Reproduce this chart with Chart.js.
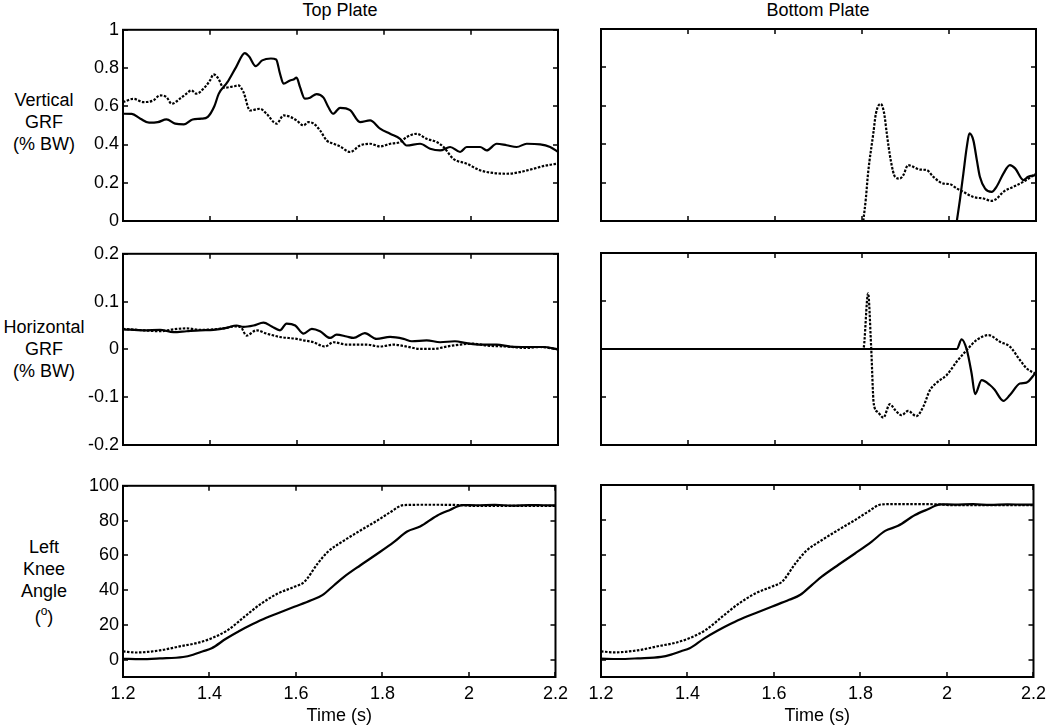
<!DOCTYPE html>
<html>
<head>
<meta charset="utf-8">
<script src="https://cdn.jsdelivr.net/npm/chart.js@4.4.0/dist/chart.umd.min.js"></script>
<style>
  body { margin: 0; background: #fff; width: 1050px; height: 725px; position: relative; overflow: hidden;
         font-family: "Liberation Sans", Arial, sans-serif; color: #000; }
  canvas { position: absolute; }
  .lbl { position: absolute; text-align: center; font-size: 18px; line-height: 22px; white-space: nowrap; }
  .lbl sup { font-size: 12px; line-height: 0; vertical-align: 8px; }
  .deg { display: block; margin-top: 4px; }
</style>
</head>
<body>
<div class="lbl" style="left:240px;width:200px;top:-1px">Top Plate</div>
<div class="lbl" style="left:718px;width:200px;top:-1px">Bottom Plate</div>
<div class="lbl" style="left:0;width:88px;top:89px">Vertical<br>GRF<br>(% BW)</div>
<div class="lbl" style="left:0;width:88px;top:316px">Horizontal<br>GRF<br>(% BW)</div>
<div class="lbl" style="left:0;width:88px;top:536px">Left<br>Knee<br>Angle<span class="deg">(<sup>o</sup>)</span></div>

<script>
// tick labels
const timeTicks = [1.2, 1.4, 1.6, 1.8, 2, 2.2];
const vertTicks = [0, 0.2, 0.4, 0.6, 0.8, 1];
const horizTicks = [-0.2, -0.1, 0, 0.1, 0.2];
const kneeTicks = [0, 20, 40, 60, 80, 100];

// Vertical GRF, top plate
const vertTopSolidT = [1.2, 1.22, 1.24, 1.26, 1.28, 1.3, 1.32, 1.34, 1.36, 1.38, 1.395, 1.41, 1.42, 1.44, 1.46, 1.48, 1.49, 1.505, 1.52, 1.54, 1.552, 1.561, 1.569, 1.584, 1.592, 1.599, 1.607, 1.618, 1.63, 1.645, 1.661, 1.672, 1.683, 1.699, 1.722, 1.745, 1.768, 1.791, 1.814, 1.837, 1.852, 1.883, 1.906, 1.929, 1.952, 1.975, 1.99, 2.021, 2.036, 2.059, 2.082, 2.105, 2.128, 2.159, 2.182, 2.2];
const vertTopSolid = [0.561, 0.56, 0.535, 0.514, 0.517, 0.531, 0.509, 0.505, 0.531, 0.535, 0.545, 0.6, 0.665, 0.726, 0.805, 0.878, 0.86, 0.81, 0.84, 0.85, 0.845, 0.77, 0.718, 0.735, 0.74, 0.75, 0.7, 0.64, 0.645, 0.664, 0.645, 0.596, 0.561, 0.592, 0.58, 0.517, 0.526, 0.483, 0.456, 0.43, 0.395, 0.404, 0.378, 0.369, 0.387, 0.361, 0.387, 0.387, 0.369, 0.404, 0.396, 0.387, 0.404, 0.401, 0.387, 0.361];
const vertTopDotT = [1.2, 1.224, 1.247, 1.27, 1.285, 1.3, 1.312, 1.331, 1.346, 1.357, 1.369, 1.385, 1.4, 1.408, 1.419, 1.431, 1.454, 1.465, 1.477, 1.492, 1.515, 1.53, 1.553, 1.569, 1.584, 1.599, 1.615, 1.626, 1.638, 1.653, 1.668, 1.684, 1.699, 1.722, 1.745, 1.768, 1.791, 1.814, 1.837, 1.852, 1.875, 1.898, 1.921, 1.937, 1.959, 1.99, 2.021, 2.052, 2.082, 2.113, 2.143, 2.174, 2.2];
const vertTopDot = [0.622, 0.639, 0.622, 0.631, 0.657, 0.648, 0.613, 0.64, 0.666, 0.683, 0.666, 0.692, 0.735, 0.767, 0.746, 0.697, 0.704, 0.709, 0.674, 0.578, 0.587, 0.561, 0.509, 0.552, 0.545, 0.526, 0.5, 0.517, 0.51, 0.474, 0.422, 0.404, 0.39, 0.361, 0.395, 0.404, 0.39, 0.404, 0.413, 0.439, 0.456, 0.43, 0.413, 0.387, 0.326, 0.3, 0.265, 0.251, 0.247, 0.256, 0.273, 0.291, 0.3];

// Vertical GRF, bottom plate
const vertBotSolidT = [2.018, 2.025, 2.033, 2.041, 2.047, 2.056, 2.064, 2.071, 2.083, 2.098, 2.11, 2.125, 2.14, 2.152, 2.171, 2.182, 2.198];
const vertBotSolid = [0, 0.108, 0.247, 0.387, 0.456, 0.42, 0.317, 0.23, 0.169, 0.152, 0.181, 0.247, 0.291, 0.274, 0.213, 0.23, 0.239];
const vertBotDotT = [1.803, 1.809, 1.814, 1.826, 1.832, 1.843, 1.851, 1.857, 1.866, 1.876, 1.887, 1.895, 1.906, 1.918, 1.933, 1.949, 1.964, 1.987, 2.002, 2.018, 2.033, 2.056, 2.079, 2.098, 2.11, 2.125, 2.148, 2.171, 2.198];
const vertBotDot = [0, 0.12, 0.25, 0.456, 0.56, 0.61, 0.56, 0.456, 0.317, 0.23, 0.221, 0.239, 0.291, 0.282, 0.268, 0.265, 0.23, 0.195, 0.192, 0.169, 0.152, 0.125, 0.117, 0.105, 0.117, 0.152, 0.178, 0.204, 0.244];

// Horizontal GRF, top plate
const horTopSolidT = [1.2, 1.247, 1.285, 1.316, 1.346, 1.377, 1.408, 1.438, 1.461, 1.477, 1.5, 1.523, 1.542, 1.561, 1.576, 1.596, 1.615, 1.634, 1.653, 1.676, 1.691, 1.714, 1.73, 1.756, 1.783, 1.814, 1.845, 1.864, 1.898, 1.929, 1.963, 1.99, 2.021, 2.059, 2.09, 2.128, 2.166, 2.2];
const horTopSolid = [0.042, 0.04, 0.041, 0.036, 0.038, 0.04, 0.041, 0.045, 0.05, 0.047, 0.05, 0.056, 0.048, 0.04, 0.054, 0.05, 0.033, 0.043, 0.038, 0.024, 0.031, 0.027, 0.024, 0.034, 0.022, 0.026, 0.022, 0.017, 0.019, 0.015, 0.017, 0.013, 0.01, 0.01, 0.006, 0.005, 0.005, 0];
const horTopDotT = [1.2, 1.247, 1.285, 1.316, 1.346, 1.377, 1.408, 1.438, 1.454, 1.47, 1.484, 1.507, 1.53, 1.561, 1.599, 1.615, 1.638, 1.664, 1.684, 1.714, 1.73, 1.76, 1.791, 1.822, 1.852, 1.883, 1.914, 1.944, 1.975, 2.005, 2.036, 2.082, 2.128, 2.159, 2.2];
const horTopDot = [0.043, 0.04, 0.038, 0.042, 0.044, 0.041, 0.042, 0.045, 0.048, 0.047, 0.029, 0.04, 0.033, 0.026, 0.022, 0.019, 0.015, 0.006, 0.015, 0.01, 0.01, 0.01, 0.006, 0.01, 0.006, 0.001, 0.001, 0.006, 0.01, 0.012, 0.008, 0.006, 0.003, 0.005, 0];

// Horizontal GRF, bottom plate
const horBotSolidT = [1.2, 2.018, 2.029, 2.041, 2.052, 2.06, 2.075, 2.094, 2.105, 2.125, 2.14, 2.163, 2.178, 2.198];
const horBotSolid = [0, 0, 0.02, -0.002, -0.051, -0.094, -0.065, -0.075, -0.085, -0.108, -0.096, -0.072, -0.07, -0.051];
const horBotDotT = [1.2, 1.803, 1.814, 1.821, 1.827, 1.836, 1.849, 1.864, 1.876, 1.891, 1.906, 1.925, 1.941, 1.956, 1.972, 1.995, 2.018, 2.041, 2.064, 2.091, 2.117, 2.14, 2.163, 2.178, 2.198];
const horBotDot = [0, 0, 0.116, 0.005, -0.114, -0.131, -0.143, -0.115, -0.127, -0.138, -0.129, -0.14, -0.12, -0.086, -0.07, -0.054, -0.026, -0.002, 0.019, 0.029, 0.015, 0.005, -0.023, -0.04, -0.051];

// Left knee angle (same on both plates)
const kneeSolidT = [1.2, 1.24, 1.285, 1.339, 1.362, 1.385, 1.405, 1.438, 1.469, 1.5, 1.53, 1.561, 1.596, 1.635, 1.661, 1.688, 1.711, 1.749, 1.788, 1.826, 1.857, 1.887, 1.926, 1.956, 1.985, 2.017, 2.06, 2.1, 2.14, 2.17, 2.2];
const kneeSolid = [0.5, 0.3, 0.7, 1.5, 2.8, 4.8, 6.5, 12, 16.5, 20.5, 24, 27, 30.4, 34.2, 37.1, 42.8, 47.6, 54.3, 60.9, 67.6, 73.7, 76.6, 82.8, 86.1, 88.9, 88.8, 89, 88.6, 88.9, 88.8, 88.7];
const kneeDotT = [1.2, 1.23, 1.285, 1.331, 1.375, 1.405, 1.443, 1.481, 1.52, 1.558, 1.596, 1.619, 1.65, 1.673, 1.711, 1.749, 1.788, 1.818, 1.849, 1.902, 1.979, 2.017, 2.1, 2.2];
const kneeDot = [4.7, 4.1, 5.3, 7.6, 9.8, 12.3, 17.1, 24.7, 32.3, 38, 41.9, 44.7, 55.2, 61.9, 68.5, 74.3, 80, 84.8, 88.9, 89.1, 88.9, 88.4, 88.5, 88.5];

Chart.defaults.font.family = "'Liberation Sans', Arial, sans-serif";
Chart.defaults.font.size = 18;
Chart.defaults.color = '#000';

const plotLeft = [123, 601], plotRight = [558, 1036];
const plotTop = [29, 253, 485], plotBottom = [221, 445, 677];
const padL = 70, padT = 14, padR = 16;

function pts(t, v) { return t.map((x, i) => ({ x: x, y: v[i] })); }

// frame with inward ticks on all four sides
const framePlugin = {
  id: 'frame',
  afterDraw(chart) {
    const { ctx, chartArea: a, scales } = chart;
    ctx.save();
    ctx.strokeStyle = '#000';
    ctx.lineWidth = 2;
    ctx.strokeRect(a.left, a.top, a.right - a.left, a.bottom - a.top);
    ctx.lineWidth = 1.5;
    ctx.beginPath();
    scales.x.ticks.forEach(t => {
      const px = Math.round(scales.x.getPixelForValue(t.value));
      ctx.moveTo(px, a.bottom); ctx.lineTo(px, a.bottom - 5);
      ctx.moveTo(px, a.top); ctx.lineTo(px, a.top + 5);
    });
    scales.y.ticks.forEach(t => {
      const py = Math.round(scales.y.getPixelForValue(t.value));
      ctx.moveTo(a.left, py); ctx.lineTo(a.left + 5, py);
      ctx.moveTo(a.right, py); ctx.lineTo(a.right - 5, py);
    });
    ctx.stroke();
    ctx.restore();
  }
};

const panels = [
  { row: 0, col: 0, ticks: vertTicks, min: 0, max: 1, solid: [vertTopSolidT, vertTopSolid], dot: [vertTopDotT, vertTopDot] },
  { row: 0, col: 1, ticks: vertTicks, min: 0, max: 1, solid: [vertBotSolidT, vertBotSolid], dot: [vertBotDotT, vertBotDot] },
  { row: 1, col: 0, ticks: horizTicks, min: -0.2, max: 0.2, solid: [horTopSolidT, horTopSolid], dot: [horTopDotT, horTopDot] },
  { row: 1, col: 1, ticks: horizTicks, min: -0.2, max: 0.2, solid: [horBotSolidT, horBotSolid], dot: [horBotDotT, horBotDot] },
  { row: 2, col: 0, ticks: kneeTicks, min: -10, max: 100, solid: [kneeSolidT, kneeSolid], dot: [kneeDotT, kneeDot] },
  { row: 2, col: 1, ticks: kneeTicks, min: -10, max: 100, solid: [kneeSolidT, kneeSolid], dot: [kneeDotT, kneeDot] }
];

panels.forEach(p => {
  const last = p.row === 2;
  const xH = last ? 50 : 16;
  const canvas = document.createElement('canvas');
  canvas.width = plotRight[p.col] - plotLeft[p.col] + padL + padR;
  canvas.height = plotBottom[p.row] - plotTop[p.row] + padT + xH;
  canvas.style.left = (plotLeft[p.col] - padL) + 'px';
  canvas.style.top = (plotTop[p.row] - padT) + 'px';
  document.body.appendChild(canvas);

  const lineBase = { borderColor: '#000', borderWidth: 2.2, pointRadius: 0, cubicInterpolationMode: 'monotone', fill: false };
  new Chart(canvas.getContext('2d'), {
    type: 'line',
    data: {
      datasets: [
        Object.assign({}, lineBase, { data: pts(p.solid[0], p.solid[1]) }),
        Object.assign({}, lineBase, { borderDash: [2.5, 1.5], data: pts(p.dot[0], p.dot[1]) })
      ]
    },
    options: {
      responsive: false,
      animation: false,
      events: [],
      layout: { padding: { left: 0, top: padT, right: padR, bottom: 0 } },
      plugins: { legend: { display: false }, tooltip: { enabled: false } },
      scales: {
        x: {
          type: 'linear', min: 1.2, max: 2.2,
          afterBuildTicks: s => { s.ticks = timeTicks.map(v => ({ value: v })); },
          afterFit: s => { s.height = xH; },
          grid: { display: false, drawTicks: false },
          border: { display: false },
          ticks: { display: last, padding: 6, autoSkip: false, maxRotation: 0, callback: v => String(v) },
          title: { display: last, text: 'Time (s)', padding: { top: 0, bottom: 0 } }
        },
        y: {
          type: 'linear', min: p.min, max: p.max,
          afterBuildTicks: s => { s.ticks = p.ticks.map(v => ({ value: v })); },
          afterFit: s => { s.width = padL; },
          grid: { display: false, drawTicks: false },
          border: { display: false },
          ticks: { display: p.col === 0, padding: 4, autoSkip: false, callback: v => String(v) }
        }
      }
    },
    plugins: [framePlugin]
  });
});
</script>
</body>
</html>
